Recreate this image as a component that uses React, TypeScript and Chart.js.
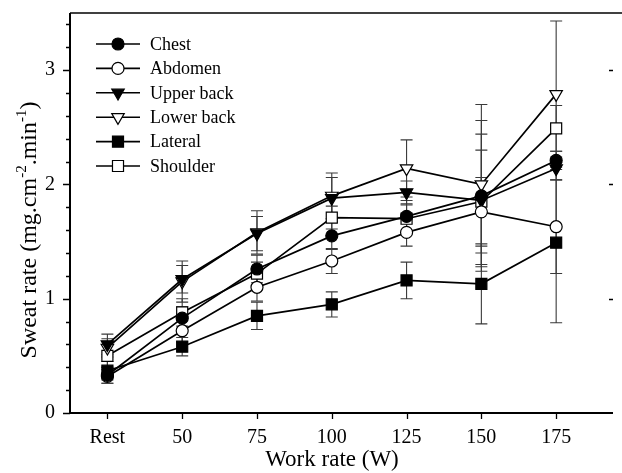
import React, { useEffect, useRef } from 'react';
import { Chart, registerables } from 'chart.js';

Chart.register(...registerables);

const FONT = '"Liberation Serif", "Times New Roman", serif';

const categories = ['Rest', '50', '75', '100', '125', '150', '175'];

const chest = [0.33, 0.83, 1.26, 1.55, 1.72, 1.9, 2.21];
const chestErr = [0.07, 0.1, 0.12, 0.12, 0.14, 0.66, 0.08];
const abdomen = [0.32, 0.72, 1.1, 1.33, 1.58, 1.76, 1.63];
const abdomenErr = [0.06, 0.1, 0.12, 0.11, 0.12, 0.3, 0.41];
const upperBack = [0.6, 1.17, 1.57, 1.88, 1.93, 1.86, 2.14];
const upperBackErr = [0.09, 0.12, 0.15, 0.18, 0.1, 0.58, 0.1];
const lowerBack = [0.57, 1.15, 1.58, 1.9, 2.14, 2.0, 2.79];
const lowerBackErr = [0.08, 0.18, 0.19, 0.2, 0.25, 0.7, 0.64];
const lateral = [0.37, 0.58, 0.85, 0.95, 1.16, 1.13, 1.49];
const lateralErr = [0.08, 0.08, 0.12, 0.11, 0.16, 0.35, 0.7];
const shoulder = [0.5, 0.88, 1.22, 1.71, 1.7, 1.85, 2.49];
const shoulderErr = [0.1, 0.12, 0.1, 0.1, 0.12, 0.45, 0.2];

const yTicks = [0, 1, 2, 3];
const yMinorStep = 0.2;
const yMax = 3.5;
const xTitle = 'Work rate (W)';
const yTitleParts = [
  { t: 'Sweat rate (mg.cm', sup: false },
  { t: '-2', sup: true },
  { t: '.min', sup: false },
  { t: '-1', sup: true },
  { t: ')', sup: false },
];

const seriesDefs = [
  { label: 'Chest', values: chest, errors: chestErr, style: 'circle', filled: true, radius: 6, rotation: 0 },
  { label: 'Abdomen', values: abdomen, errors: abdomenErr, style: 'circle', filled: false, radius: 6, rotation: 0 },
  { label: 'Upper back', values: upperBack, errors: upperBackErr, style: 'triangle', filled: true, radius: 7.2, rotation: 180 },
  { label: 'Lower back', values: lowerBack, errors: lowerBackErr, style: 'triangle', filled: false, radius: 7.2, rotation: 180 },
  { label: 'Lateral', values: lateral, errors: lateralErr, style: 'rect', filled: true, radius: 7.8, rotation: 0 },
  { label: 'Shoulder', values: shoulder, errors: shoulderErr, style: 'rect', filled: false, radius: 7.8, rotation: 0 },
];

function drawMarker(ctx: CanvasRenderingContext2D, style: string, x: number, y: number, r: number, rotation: number, filled: boolean) {
  ctx.beginPath();
  if (style === 'circle') {
    ctx.arc(x, y, r, 0, Math.PI * 2);
  } else if (style === 'triangle') {
    let rad = (rotation * Math.PI) / 180;
    for (let k = 0; k < 3; k++) {
      const px = x + Math.sin(rad) * r;
      const py = y - Math.cos(rad) * r;
      if (k === 0) ctx.moveTo(px, py);
      else ctx.lineTo(px, py);
      rad += (2 * Math.PI) / 3;
    }
    ctx.closePath();
  } else {
    const s = r * Math.SQRT1_2;
    ctx.rect(x - s, y - s, 2 * s, 2 * s);
  }
  ctx.fillStyle = filled ? '#000' : '#fff';
  ctx.fill();
  ctx.lineWidth = 1.2;
  ctx.strokeStyle = '#000';
  ctx.stroke();
}

const errorBarPlugin = {
  id: 'errorBars',
  beforeDatasetsDraw(chart: any) {
    const { ctx, scales } = chart;
    const x = scales.x;
    const y = scales.y;
    ctx.save();
    ctx.strokeStyle = '#3a3a3a';
    ctx.lineWidth = 1.1;
    chart.data.datasets.forEach((ds: any) => {
      ds.data.forEach((pt: any, i: number) => {
        const e = ds.errors[i];
        const px = x.getPixelForValue(pt.x);
        const top = y.getPixelForValue(pt.y + e);
        const bot = y.getPixelForValue(pt.y - e);
        ctx.beginPath();
        ctx.moveTo(px, top);
        ctx.lineTo(px, bot);
        ctx.moveTo(px - 6, top);
        ctx.lineTo(px + 6, top);
        ctx.moveTo(px - 6, bot);
        ctx.lineTo(px + 6, bot);
        ctx.stroke();
      });
    });
    ctx.restore();
  },
};

const axesPlugin = {
  id: 'axesDecor',
  afterDraw(chart: any) {
    const { ctx, chartArea, scales } = chart;
    const x = scales.x;
    const y = scales.y;
    const { left, right, top, bottom } = chartArea;
    ctx.save();
    ctx.strokeStyle = '#000';
    ctx.lineWidth = 2;
    ctx.beginPath();
    ctx.moveTo(left, top);
    ctx.lineTo(left, bottom + 1);
    ctx.moveTo(left - 1, bottom);
    ctx.lineTo(right, bottom);
    ctx.stroke();
    ctx.lineWidth = 1.5;
    ctx.beginPath();
    ctx.moveTo(left, top);
    ctx.lineTo(622, top);
    ctx.stroke();
    ctx.lineWidth = 1.3;
    ctx.beginPath();
    const n = Math.round(yMax / yMinorStep);
    for (let k = 0; k <= n; k++) {
      const v = k * yMinorStep;
      if (v > yMax + 1e-9) break;
      const py = Math.round(y.getPixelForValue(v)) + 0.5;
      const isMajor = yTicks.some((t) => Math.abs(t - v) < 1e-6);
      const len = isMajor ? 7 : 4;
      ctx.moveTo(left - len, py);
      ctx.lineTo(left, py);
    }
    yTicks.forEach((t) => {
      if (t === 0) return;
      const py = Math.round(y.getPixelForValue(t)) + 0.5;
      ctx.moveTo(right - 4, py);
      ctx.lineTo(right, py);
    });
    categories.forEach((_, i) => {
      const px = Math.round(x.getPixelForValue(i)) + 0.5;
      ctx.moveTo(px, bottom);
      ctx.lineTo(px, bottom + 6);
    });
    ctx.stroke();

    // x axis title
    ctx.fillStyle = '#000';
    ctx.font = `23px ${FONT}`;
    ctx.textAlign = 'center';
    ctx.textBaseline = 'middle';
    ctx.fillText(xTitle, 332, 460);

    // y axis title with superscripts
    const mainFont = `24px ${FONT}`;
    const supFont = `15px ${FONT}`;
    let total = 0;
    const widths = yTitleParts.map((p) => {
      ctx.font = p.sup ? supFont : mainFont;
      const w = ctx.measureText(p.t).width;
      total += w;
      return w;
    });
    ctx.translate(28, 230);
    ctx.rotate(-Math.PI / 2);
    ctx.textBaseline = 'alphabetic';
    ctx.textAlign = 'left';
    let cx = -total / 2;
    yTitleParts.forEach((p, i) => {
      ctx.font = p.sup ? supFont : mainFont;
      ctx.fillText(p.t, cx, p.sup ? -2 : 8);
      cx += widths[i];
    });
    ctx.restore();

    // legend
    ctx.save();
    chart.data.datasets.forEach((ds: any, i: number) => {
      const ly = 44 + i * 24.4;
      ctx.strokeStyle = '#000';
      ctx.lineWidth = 1.6;
      ctx.beginPath();
      ctx.moveTo(96, ly);
      ctx.lineTo(140, ly);
      ctx.stroke();
      drawMarker(ctx, ds.pointStyle, 118, ly, ds.pointRadius, ds.pointRotation, ds.pointBackgroundColor === '#000');
      ctx.fillStyle = '#000';
      ctx.font = `18px ${FONT}`;
      ctx.textBaseline = 'middle';
      ctx.textAlign = 'left';
      ctx.fillText(ds.label, 150, ly + 1);
    });
    ctx.restore();
  },
};

export default function App() {
  const ref = useRef<HTMLCanvasElement | null>(null);

  useEffect(() => {
    if (!ref.current) return;
    const datasets = seriesDefs.map((s) => ({
      label: s.label,
      data: s.values.map((v, i) => ({ x: i, y: v })),
      errors: s.errors,
      borderColor: '#000',
      borderWidth: 1.7,
      pointStyle: s.style,
      pointRadius: s.radius,
      pointRotation: s.rotation,
      pointBackgroundColor: s.filled ? '#000' : '#fff',
      pointBorderColor: '#000',
      pointBorderWidth: 1.2,
      fill: false,
      tension: 0,
    }));
    const chart = new Chart(ref.current, {
      type: 'line',
      data: { datasets } as any,
      plugins: [errorBarPlugin, axesPlugin],
      options: {
        animation: false,
        responsive: false,
        devicePixelRatio: 1,
        layout: { padding: { top: 13, right: 6, left: 0, bottom: 0 } },
        plugins: { legend: { display: false }, tooltip: { enabled: false } },
        scales: {
          x: {
            type: 'linear',
            min: -0.5,
            max: 6.76,
            grid: { display: false },
            border: { display: false },
            afterBuildTicks: (s: any) => {
              s.ticks = categories.map((_, i) => ({ value: i }));
            },
            afterFit: (s: any) => {
              s.height = 60;
              s.paddingLeft = 0;
              s.paddingRight = 0;
            },
            ticks: {
              autoSkip: false,
              maxRotation: 0,
              padding: 5,
              color: '#000',
              font: { family: FONT, size: 20 },
              callback: (v: any) => categories[v as number] ?? '',
            },
          },
          y: {
            type: 'linear',
            min: 0,
            max: yMax,
            grid: { display: false },
            border: { display: false },
            afterBuildTicks: (s: any) => {
              s.ticks = yTicks.map((v) => ({ value: v }));
            },
            afterFit: (s: any) => {
              s.width = 70;
              s.paddingTop = 0;
              s.paddingBottom = 0;
            },
            ticks: {
              padding: 7,
              color: '#000',
              font: { family: FONT, size: 20 },
              callback: (v: any) => String(v),
            },
          },
        },
      } as any,
    });
    return () => chart.destroy();
  }, []);

  return (
    <div style={{ position: 'absolute', left: 0, top: 0, width: 622, height: 473, background: '#fff' }}>
      <canvas ref={ref} width={622} height={473} style={{ display: 'block' }} />
    </div>
  );
}
